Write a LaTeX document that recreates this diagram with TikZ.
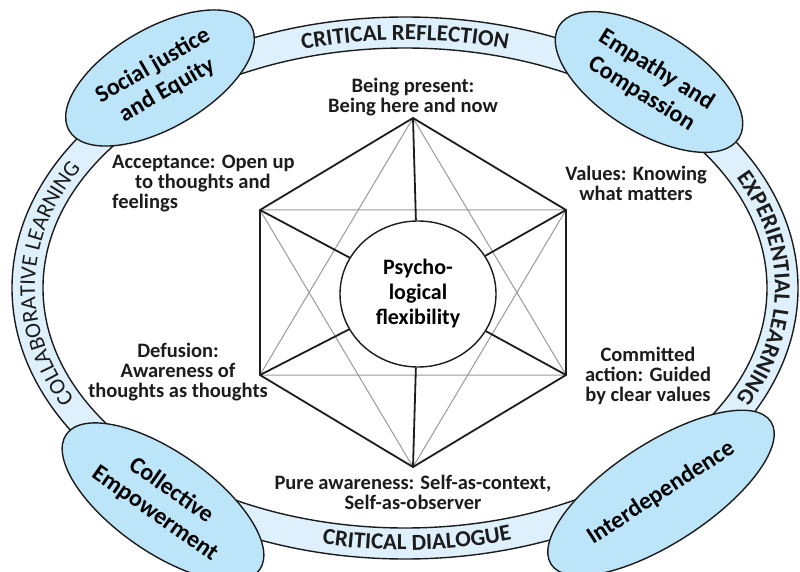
\documentclass[tikz,border=0pt]{standalone}
\usepackage{fontspec}
\setmainfont{Carlito}
\usetikzlibrary{positioning,calc,shapes.geometric,decorations.text}
\definecolor{actBand}{HTML}{DDF0FC}
\definecolor{actOval}{HTML}{BDE5F9}
\definecolor{actInk}{HTML}{1C1C1C}
\definecolor{actGrey}{HTML}{9A9A9A}
\newcommand{\ringfont}{\fontsize{23}{23}\selectfont}

\begin{document}
\begin{tikzpicture}[x=1pt, y=1pt,
      oval/.style={ellipse, draw=actInk, fill=actOval, line width=1.4pt,
        minimum height=100pt, inner sep=0pt, align=center,
        font=\fontsize{24}{28}\selectfont\bfseries},
      lbl/.style={font=\fontsize{20.5}{20}\selectfont\bfseries, color=actInk,
        align=center, inner sep=0pt},
      hexline/.style={draw=actInk, line width=1.8pt},
      chord/.style={draw=actGrey, line width=1pt},
      ringtext/.style={decorate, decoration={text along path, text align=center,
        text color=actInk}}]
    \useasboundingbox (0,0) rectangle (800,571);
    \clip (0,0) rectangle (800,571);
    % outer ring
    \coordinate (rc) at (405,283);
    \fill[actBand, even odd rule] (rc) ellipse[x radius=393, y radius=271]
      (rc) ellipse[x radius=362, y radius=240];
    \draw[actInk, line width=1.4pt] (rc) ellipse[x radius=393, y radius=271]
      (rc) ellipse[x radius=362, y radius=240];
    % ring captions
    \path[ringtext, decoration={text={|\ringfont\bfseries|CRITICAL REFLECTION}}]
      ($(rc)+(125:370 and 248)$) arc[start angle=125, end angle=55, x radius=370, y radius=248];
    \path[ringtext, decoration={text={|\fontsize{22.5}{22.5}\selectfont|COLLABORATIVE LEARNING}}]
      ($(rc)+(225:370 and 248)$) arc[start angle=225, end angle=133, x radius=370, y radius=248];
    \path[ringtext, decoration={text={|\ringfont\bfseries|EXPERIENTIAL LEARNING}}]
      ($(rc)+(45:370 and 248)$) arc[start angle=45, end angle=-45, x radius=370, y radius=248];
    \path[ringtext, decoration={text={|\ringfont\bfseries|CRITICAL DIALOGUE}}]
      ($(rc)+(237:385 and 262)$) arc[start angle=237, end angle=307, x radius=385, y radius=262];
    % ovals on the ring
    \node[oval, minimum width=210pt, rotate=30] (soc) at (160,493) {Social justice\\and Equity};
    \node[oval, minimum width=212pt, rotate=-32] (emp) at (649,489) {Empathy and\\Compassion};
    \node[oval, minimum width=236pt, rotate=-35] (col) at (163,69) {Collective\\Empowerment};
    \node[oval, minimum width=262pt, rotate=33] (itd) at (661,78) {Interdependence};
    % hexaflex corners
    \coordinate (v1) at (413,453);
    \coordinate (v2) at (260,361);
    \coordinate (v3) at (260,196);
    \coordinate (v4) at (413,104);
    \coordinate (v5) at (566,196);
    \coordinate (v6) at (566,361);
    \node[ellipse, draw=actInk, fill=white, line width=1.4pt, minimum width=156pt,
      minimum height=146pt, inner sep=0pt, align=center,
      font=\fontsize{22}{25}\selectfont\bfseries] (pf) at (418,277)
      {Psycho-\\logical\\flexibility};
    \draw[chord] (v1) -- (v3) -- (v5) -- cycle;
    \draw[chord] (v2) -- (v4) -- (v6) -- cycle;
    \draw[hexline] (v1) -- (v2) -- (v3) -- (v4) -- (v5) -- (v6) -- cycle;
    \draw[hexline] (v1) -- (pf); \draw[hexline] (v2) -- (pf);
    \draw[hexline] (v3) -- (pf); \draw[hexline] (v4) -- (pf);
    \draw[hexline] (v5) -- (pf); \draw[hexline] (v6) -- (pf);
    % the six processes
    \node[lbl, above=2pt of v1] (pres) {Being present:\\Being here and now};
    \node[lbl, align=left, anchor=west] (acc) at (112,387)
      {Acceptance: Open up\\\hspace*{23pt}to thoughts and\\feelings};
    \node[lbl] (val) at (636,388) {Values: Knowing\\what matters};
    \node[lbl] (def) at (178,199) {Defusion:\\Awareness of\\thoughts as thoughts};
    \node[lbl] (com) at (648,195) {Committed\\action: Guided\\by clear values};
    \node[lbl, below=8pt of v4] (pure) {Pure awareness: Self-as-context,\\Self-as-observer};
  \end{tikzpicture}
\end{document}
